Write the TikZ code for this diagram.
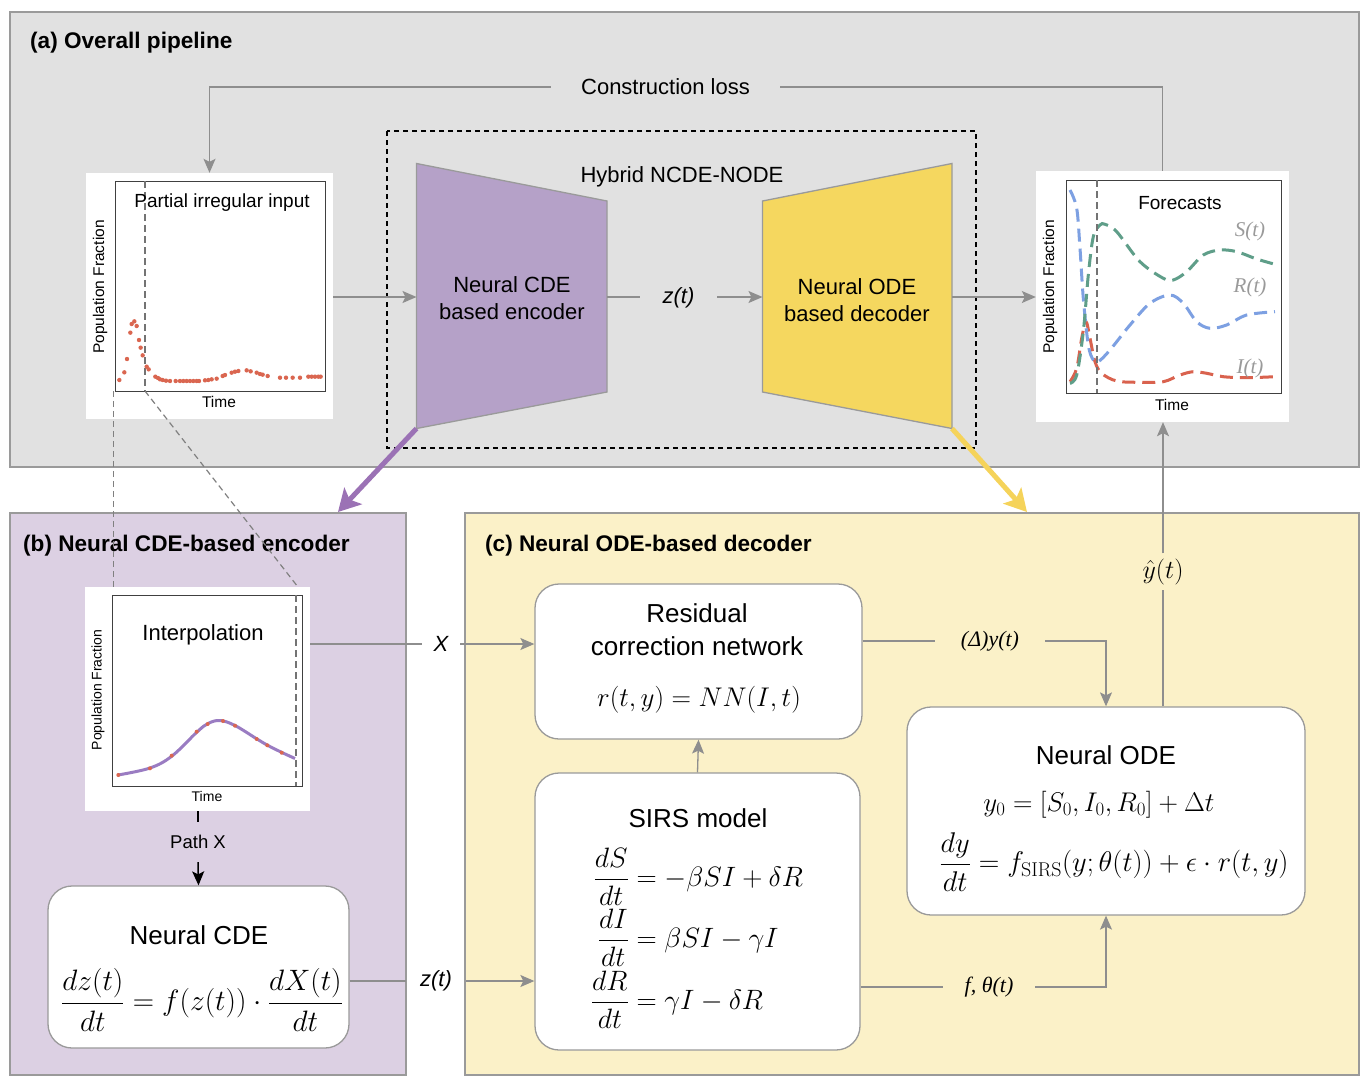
\RequirePackage{fix-cm}
\documentclass[tikz,border=0pt]{standalone}
\usepackage{amsmath}
\usepackage{fontspec}
\setsansfont{Liberation Sans}
\newfontfamily\libserif{Liberation Serif}
\usetikzlibrary{arrows.meta,calc}
\newcommand\fsz[2]{\fontsize{#1}{#2}\selectfont}
\definecolor{panelA}{HTML}{E1E1E1}
\definecolor{panelB}{HTML}{DCD0E3}
\definecolor{panelC}{HTML}{FBF1C8}
\definecolor{frameG}{HTML}{9A9A9A}
\definecolor{encF}{HTML}{B5A1C8}
\definecolor{decF}{HTML}{F5D75F}
\definecolor{conG}{HTML}{8E8E8E}
\definecolor{dotR}{HTML}{DA6650}
\definecolor{curB}{HTML}{7DA0E2}
\definecolor{curG}{HTML}{5F9E89}
\definecolor{curR}{HTML}{D9624E}
\definecolor{curP}{HTML}{9A7CC2}
\definecolor{arP}{HTML}{9B72B5}
\definecolor{arY}{HTML}{F5D35A}
\definecolor{lblG}{HTML}{9A9A9A}
\begin{document}
\begin{tikzpicture}[x=1pt,y=-1pt,
  every node/.style={font=\sffamily, inner sep=0pt, text=black},
  panel/.style={draw=frameG, line width=1.3pt, rectangle},
  rbox/.style={draw=frameG, fill=white, rounded corners=24pt, line width=1.3pt, rectangle},
  plotbg/.style={fill=white, rectangle},
  frm/.style={draw=black!75, line width=1pt},
  vdash/.style={draw=black!55, line width=1.8pt, dash pattern=on 7pt off 4pt},
  conn/.style={draw=conG, line width=1.3pt},
  arr/.style={conn, -{Stealth[length=14pt,width=12pt,inset=3pt]}},
  curve/.style={line width=3pt, dash pattern=on 13pt off 7pt, smooth, tension=0.55},
  ttl/.style={font=\sffamily\bfseries\fsz{22.6}{26}, anchor=west},
  boxttl/.style={font=\sffamily\fsz{26}{31}},
  mth/.style={font=\fsz{27}{32}},
  axl/.style={font=\sffamily\fsz{15.5}{18}},
  sirlbl/.style={font=\libserif\itshape\fsz{21}{24}, text=lblG}
]
\useasboundingbox (0,0) rectangle (1369,1085);

% ---------- panels ----------
\node[panel, fill=panelA, minimum width=1349pt, minimum height=455pt] (pa) at (684.5,239.5) {};
\node[panel, fill=panelB, minimum width=396pt, minimum height=562pt] (pb) at (208,794) {};
\node[panel, fill=panelC, minimum width=894pt, minimum height=562pt] (pc) at (912,794) {};
\node[ttl] (ta) at (30,43) {(a) Overall pipeline};
\node[ttl] (tb) at (23,546) {(b) Neural CDE-based encoder};
\node[ttl] (tc) at (485,546) {(c) Neural ODE-based decoder};

% ---------- hybrid box ----------
\draw[black, line width=1.5pt, dash pattern=on 5pt off 4pt] (387,131) rectangle (976,448);
\node[font=\sffamily\fsz{22}{26}] (hyb) at (682,177) {Hybrid NCDE-NODE};

\draw[fill=encF, draw=frameG, line width=1.3pt] (416.5,163.5) -- (607,201) -- (607,392) -- (416.5,428.5) -- cycle;
\draw[fill=decF, draw=frameG, line width=1.3pt] (762.5,201) -- (952,163.5) -- (952,428.5) -- (762.5,392) -- cycle;
\coordinate (encW) at (416.5,297);
\coordinate (encE) at (607,297);
\coordinate (decW) at (762.5,297);
\coordinate (decE) at (952,297);
\coordinate (encBL) at (416.5,428.5);
\coordinate (decBR) at (952,428.5);
\node[align=center, font=\sffamily\fsz{22}{27}] (enc) at (512,298) {Neural CDE\\based encoder};
\node[align=center, font=\sffamily\fsz{22}{27}] (dec) at (857,300) {Neural ODE\\based decoder};

% ---------- input plot ----------
\node[plotbg, minimum width=247pt, minimum height=246pt] (inp) at (209.5,296) {};
\draw[frm] (115,181) rectangle (325,391);
\draw[vdash] (145,181) -- (145,391);
\foreach \a/\b in {118/630,133/607,141/567,151/488,155/462,163/454,170/468,177/510,182/533,188/556,200/590,206/598,226/620,234/624,240/628,248/630,258/632,270/633,287/633,300/633,310/633,320/633,330/633,340/633,350/633,357/633,375/631,385/630,395/628,410/626,428/618,435/615,455/608,465/605,475/603,500/601,512/604,530/608,540/612,548/614,563/618,600/623,618/623,638/623,660/623,685/620,695/620,705/620,715/620,722/620}
  \fill[dotR] ({80+\a/3},{170+\b/3}) circle (2.2pt);
\node[font=\sffamily\fsz{19}{22}] (inpT) at (222,203) {Partial irregular input};
\node[axl, rotate=90] (inpY) at (100,287) {Population Fraction};
\node[axl] (inpX) at (219,402) {Time};

% ---------- forecast plot ----------
\node[plotbg, minimum width=253pt, minimum height=251pt] (fc) at (1162.5,296.5) {};
\draw[frm] (1066,180) rectangle (1281,393);
\draw[curR, curve] plot coordinates {(1070,381.7) (1076.7,368.3) (1081.7,338.3) (1086,321.7) (1090,338.3) (1095,361.7) (1101.7,373.3) (1116.7,381) (1140,382.3) (1163.3,381.7) (1180,375) (1193.3,371.7) (1206.7,373.3) (1223.3,376.7) (1246.7,377.7) (1275,376.7)};
\draw[curB, curve] plot coordinates {(1070,190) (1076.7,208.3) (1080,248.3) (1083.3,298.3) (1088.3,345) (1093.3,360) (1098.3,361.7) (1110,350) (1130,325) (1150,303.3) (1170,295) (1183.3,303.3) (1196.7,321.7) (1210,328.3) (1226.7,325) (1246.7,315) (1275,311.7)};
\draw[curG, curve] plot coordinates {(1070,383.3) (1076.7,375) (1083.3,331.7) (1088.3,275) (1093.3,236.7) (1100,225) (1105,224.3) (1116.7,231.7) (1140,261.7) (1163.3,278.3) (1173.3,280) (1186.7,271.7) (1203.3,255) (1220,250) (1236.7,251.7) (1256.7,259) (1275,264.3)};
\draw[vdash] (1097,180) -- (1097,393);
\node[font=\sffamily\fsz{19}{22}] (fcT) at (1180,203) {Forecasts};
\node[axl, rotate=90] (fcY) at (1050,287) {Population Fraction};
\node[axl] (fcX) at (1172,405) {Time};
\node[sirlbl] (lS) at (1250,231) {S(t)};
\node[sirlbl] (lR) at (1250,287) {R(t)};
\node[sirlbl] (lI) at (1250,368) {I(t)};

% ---------- interpolation plot ----------
\node[plotbg, minimum width=225pt, minimum height=224pt] (interp) at (197.5,699) {};
\draw[frm] (112,595) rectangle (302,786);
\draw[vdash] (296,595) -- (296,786);
\draw[curP, line width=3pt, smooth, tension=0.6] plot coordinates {(118,775) (150,768) (172,756) (197,732) (208,723.5) (220,720.5) (235,725.5) (257,739) (268,745.5) (282,752.5) (295,758.5)};
\foreach \p in {(118.3,775),(150,768.3),(171.7,755.7),(196.7,731.7),(207.7,724),(223,721),(235,725.7),(256.7,739),(267.3,745.3),(281.7,752.7)}
  \fill[dotR] \p circle (2pt);
\node[font=\sffamily\fsz{22}{26}] (intT) at (203,635) {Interpolation};
\node[font=\sffamily\fsz{14}{16}, rotate=90] (intY) at (98,690) {Population Fraction};
\node[font=\sffamily\fsz{14}{16}] (intX) at (207,796) {Time};

% dashed zoom lines
\draw[draw=black!50, line width=1.2pt, dash pattern=on 6pt off 4pt] (113.5,391) -- (113.5,587);
\draw[draw=black!50, line width=1.2pt, dash pattern=on 6pt off 4pt] (145,391) -- (298,587);

% ---------- boxes ----------
\node[rbox, minimum width=301pt, minimum height=162pt] (ncde) at (198.5,967) {};
\node[boxttl] (ncdeT) at (199,935) {Neural CDE};
\node[mth, font=\fsz{29.5}{34}] (ncdeE) at (202,1000) {$\displaystyle \frac{dz(t)}{dt} = f(z(t))\cdot\frac{dX(t)}{dt}$};

\node[rbox, minimum width=327pt, minimum height=155pt] (res) at (698.5,661.5) {};
\node[align=center, font=\sffamily\fsz{26}{33}] (resT) at (697,630) {Residual\\correction network};
\node[mth] (resE) at (699,700) {$r(t,y) = NN(I,t)$};

\node[rbox, minimum width=325pt, minimum height=277pt] (sirs) at (697.5,911.5) {};
\node[boxttl] (sirsT) at (698,818) {SIRS model};
\node[mth, font=\fsz{28}{33}] (sirsE) at (697,938) {$\begin{aligned}\frac{dS}{dt} &= -\beta SI + \delta R\\[0pt] \frac{dI}{dt} &= \beta SI - \gamma I\\[0pt] \frac{dR}{dt} &= \gamma I - \delta R\end{aligned}$};

\node[rbox, minimum width=398pt, minimum height=208pt] (node) at (1106,811) {};
\node[boxttl] (nodeT) at (1106,755) {Neural ODE};
\node[mth] (nodeE1) at (1099,805) {$y_0 = [S_0, I_0, R_0] + \Delta t$};
\node[mth, font=\fsz{28.5}{33}] (nodeE2) at (1114,862) {$\displaystyle \frac{dy}{dt} = f_{\mathrm{SIRS}}(y;\theta(t)) + \epsilon\cdot r(t,y)$};

% ---------- connector labels ----------
\node[font=\sffamily\fsz{22}{26}, minimum width=229pt] (closs) at (665.5,87) {Construction loss};
\node[font=\sffamily\itshape\fsz{22}{26}, minimum width=77pt] (zt1) at (678.5,298) {z(t)};
\node[font=\sffamily\itshape\fsz{22}{26}, minimum width=38pt] (xl) at (441,644) {X};
\node[font=\sffamily\itshape\fsz{22}{26}, minimum width=60pt] (zt2) at (436,981) {z(t)};
\node[font=\libserif\itshape\fsz{22}{26}, minimum width=110pt] (dyl) at (990,641) {(Δ)y(t)};
\node[font=\libserif\itshape\fsz{22}{26}, minimum width=92pt] (fth) at (989,987) {f, θ(t)};
\node[font=\fsz{26}{28}, inner ysep=5pt] (yhat) at (1163,571.5) {$\hat{y}(t)$};
\node[font=\sffamily\fsz{18.5}{22}, minimum height=40pt] (pathx) at (198,842) {Path X};

% ---------- connectors ----------
\draw[conn] (fc.north) -- (fc.north |- closs) -- (closs.east);
\draw[arr] (closs.west) -- (closs.west -| inp.north) -- (inp.north);
\draw[arr] (inp.east |- encW) -- (encW);
\draw[conn] (encE) -- (zt1.west |- encE);
\draw[arr] (zt1.east |- decW) -- (decW);
\draw[arr] (decE) -- (decE -| fc.west);
\draw[line width=5pt, draw=arP, -{Stealth[length=22pt,width=24pt,inset=5pt]}] (encBL) -- (338,512);
\draw[line width=5pt, draw=arY, -{Stealth[length=22pt,width=24pt,inset=5pt]}] (decBR) -- (1027,512);

\draw[black, line width=1.5pt] (interp.south -| pathx) -- (pathx.north);
\draw[black, line width=1.5pt, -{Stealth[length=14pt,width=12pt,inset=3pt]}] (pathx.south) -- (ncde.north);

\draw[conn] (interp.east |- xl) -- (xl.west);
\draw[arr] (xl.east) -- (xl.east -| res.west);
\draw[conn] (ncde.east |- zt2) -- (zt2.west);
\draw[arr] (zt2.east) -- (zt2.east -| sirs.west);
\draw[arr] (sirs.north) -- (res.south);
\draw[conn] (res.east |- dyl) -- (dyl.west);
\draw[arr] (dyl.east) -- (dyl.east -| node.north) -- (node.north);
\draw[conn] (sirs.east |- fth) -- (fth.west);
\draw[arr] (fth.east) -- (fth.east -| node.south) -- (node.south);
\draw[conn] (node.north -| yhat) -- (yhat.south);
\draw[arr] (yhat.north) -- (fc.south -| yhat);
\end{tikzpicture}
\end{document}
